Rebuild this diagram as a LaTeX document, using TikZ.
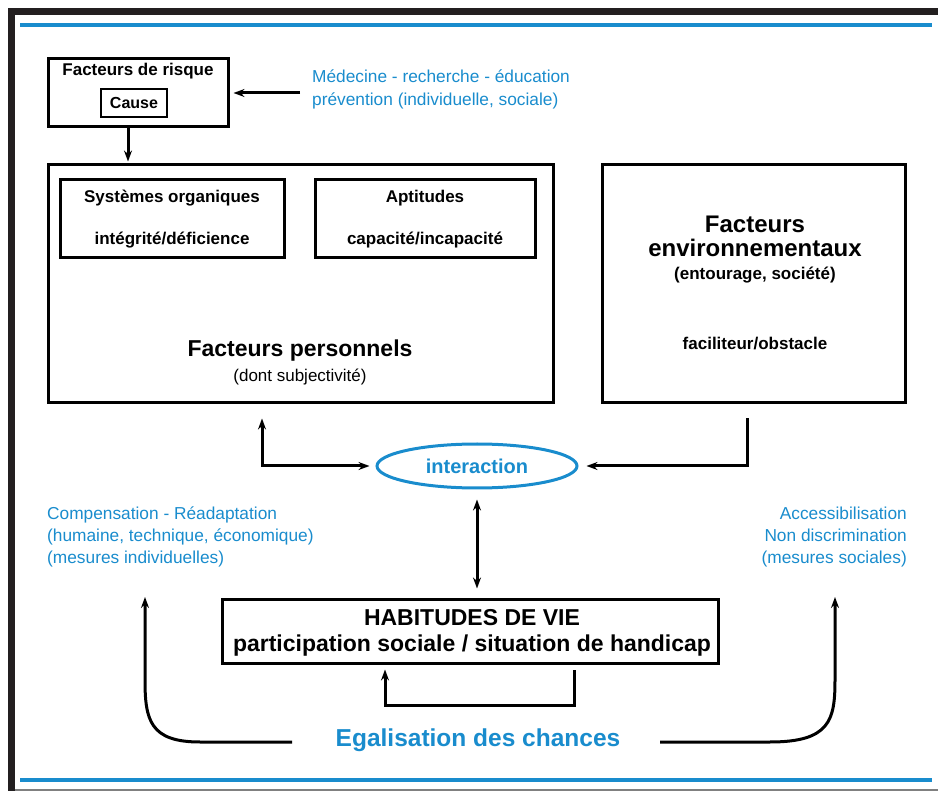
\documentclass[tikz,border=0pt]{standalone}
\usepackage{fontspec}
\setmainfont{Liberation Sans}
\usetikzlibrary{arrows.meta,shapes.geometric}
\definecolor{cblue}{RGB}{25,140,205}
\definecolor{frame}{RGB}{35,31,32}
\tikzset{
  boxthick/.style={draw=black,line width=3pt,rectangle,inner sep=0pt},
  boxthin/.style={draw=black,line width=2.4pt,rectangle,inner sep=0pt},
  txt/.style={inner sep=0pt,font=\bfseries\fontsize{17}{19}\selectfont},
  btxt/.style={inner sep=0pt,text=cblue,font=\fontsize{17.3}{23}\selectfont},
  arr/.style={line width=3pt,-{Stealth[length=11pt,width=8pt]}},
  darr/.style={line width=3pt,{Stealth[length=11pt,width=8pt]}-{Stealth[length=11pt,width=8pt]}},
}
\begin{document}
\begin{tikzpicture}[x=1pt,y=-1pt]
\useasboundingbox (0,0) rectangle (938,791);
% frame
\fill[frame] (8,8) rectangle (938,15);
\fill[frame] (8,8) rectangle (15,791);
\draw[gray,line width=2pt] (15,790) -- (938,790);
\draw[cblue,line width=3.5pt] (20,25) -- (932,25);
\draw[cblue,line width=3.5pt] (20,780) -- (932,780);

% risk factors
\node[boxthick,minimum width=180pt,minimum height=68pt] (risk) at (138,93) {};
\node[txt] (risktitle) at (138,71) {Facteurs de risque};
\node[boxthin,minimum width=66pt,minimum height=28pt,font=\bfseries\fontsize{16}{18}\selectfont] (cause) at (134,103) {Cause};
\node[btxt,anchor=west,align=left] (med) at (312,89) {Médecine - recherche - éducation\\prévention (individuelle, sociale)};
\coordinate (medstart) at (300,93);
\draw[arr] (medstart) -- ([xshift=4pt]risk.east);

% personal factors
\node[boxthick,minimum width=505pt,minimum height=238pt] (perso) at (300.5,284) {};
\draw[arr] (risk.south -| 128,0) -- ([yshift=2pt]perso.north -| 128,0);
\node[boxthick,minimum width=224pt,minimum height=78pt] (sys) at (172,219) {};
\node[txt] (systitle) at (172,198) {Systèmes organiques};
\node[txt] (sysval) at (172,240) {intégrité/déficience};
\node[boxthick,minimum width=220pt,minimum height=78pt] (apt) at (425,219) {};
\node[txt] (apttitle) at (425,198) {Aptitudes};
\node[txt] (aptval) at (425,240) {capacité/incapacité};
\node[inner sep=0pt,font=\bfseries\fontsize{23}{26}\selectfont] (persotitle) at (300,351) {Facteurs personnels};
\node[inner sep=0pt,font=\fontsize{17}{19}\selectfont] (persosub) at (300,377) {(dont subjectivité)};

% environmental factors
\node[boxthick,minimum width=303pt,minimum height=238pt] (env) at (753.5,284) {};
\node[inner sep=0pt,align=center,font=\bfseries\fontsize{24}{24}\selectfont] (envtitle) at (755,236) {Facteurs\\environnementaux};
\node[txt] (envsub) at (755,275) {(entourage, société)};
\node[txt] (envval) at (755,344) {faciliteur/obstacle};

% interaction
\node[ellipse,draw=cblue,line width=3pt,minimum width=200pt,minimum height=44pt,inner sep=0pt,text=cblue,font=\bfseries\fontsize{20}{22}\selectfont] (inter) at (477,466) {interaction};
\draw[darr] ([yshift=-14pt]perso.south -| 262,0) |- ([xshift=-6pt]inter.west);
\draw[arr] ([yshift=-14pt]env.south -| 747,0) |- ([xshift=8pt]inter.east);

% habitudes
\node[boxthick,minimum width=496pt,minimum height=63pt] (hab) at (470,631.5) {};
\node[inner sep=0pt,align=center,font=\bfseries\fontsize{23}{26}\selectfont] (habtxt) at (472,632.5) {HABITUDES DE VIE\\participation sociale / situation de handicap};
\draw[darr] ([yshift=-10pt]inter.south) -- ([yshift=10pt]hab.north -| inter.south);
\coordinate (loopstart) at (574,670);
\draw[arr] (loopstart) |- (385,705) -- ([yshift=-5pt]hab.south -| 385,0);

% side texts
\node[btxt,anchor=west,align=left,font=\fontsize{17.3}{22}\selectfont] (comp) at (47,537) {Compensation - Réadaptation\\(humaine, technique, économique)\\(mesures individuelles)};
\node[btxt,anchor=east,align=right,font=\fontsize{17.3}{22}\selectfont] (acc) at (907,537) {Accessibilisation\\Non discrimination\\(mesures sociales)};

% egalisation
\node[inner sep=0pt,text=cblue,font=\bfseries\fontsize{24.5}{26}\selectfont] (egal) at (478,740) {Egalisation des chances};
\coordinate (lstart) at (292,742);
\coordinate (rstart) at (660,742);
\coordinate (ltop) at (145,597);
\coordinate (rtop) at (835,597);
\draw[arr] (lstart) -- (200,742) .. controls (150,742) and (145,720) .. (145,680) -- (ltop);
\draw[arr] (rstart) -- (770,742) .. controls (830,742) and (835,720) .. (835,680) -- (rtop);
\end{tikzpicture}
\end{document}
